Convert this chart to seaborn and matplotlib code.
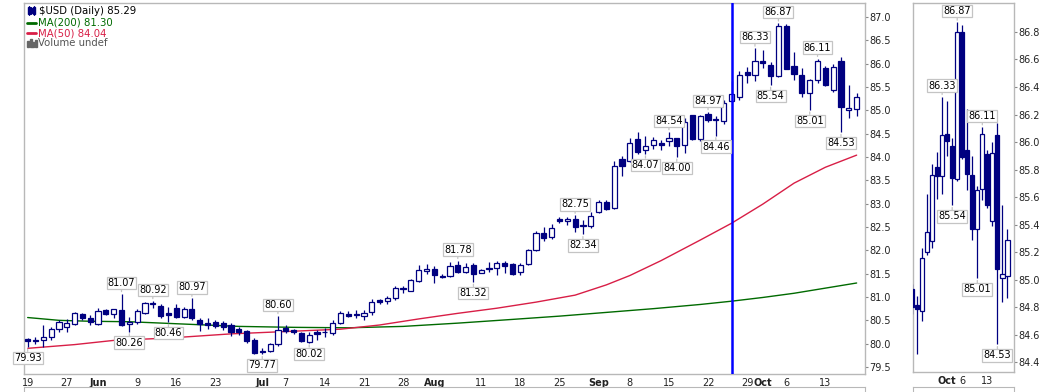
import numpy as np
import pandas as pd
import matplotlib
matplotlib.use("Agg")
import matplotlib.pyplot as plt
import seaborn as sns
from matplotlib.patches import Rectangle
from matplotlib.lines import Line2D

# ---------------- data ----------------
holidays = ["2014-05-26", "2014-07-04", "2014-09-01"]
dates = pd.bdate_range("2014-05-19", "2014-10-17")
dates = dates[~dates.isin(pd.to_datetime(holidays))]

opens = [80.11, 80.08, 80.07, 80.14, 80.31, 80.35, 80.42, 80.64, 80.56, 80.42,
         80.72, 80.63, 80.72, 80.42, 80.46, 80.66, 80.88, 80.81, 80.65, 80.76,
         80.58, 80.74, 80.51, 80.45, 80.46, 80.44, 80.40, 80.31, 80.28, 80.08,
         79.85, 79.85, 79.99, 80.34, 80.29, 80.22, 80.04, 80.24, 80.26, 80.22,
         80.45, 80.64, 80.63, 80.60, 80.67, 80.93, 80.92, 80.97, 81.20, 81.13,
         81.34, 81.56, 81.59, 81.45, 81.45, 81.69, 81.54, 81.69, 81.52, 81.62,
         81.63, 81.72, 81.70, 81.54, 81.71, 82.01, 82.37, 82.29, 82.68, 82.63,
         82.68, 82.55, 82.53, 82.82, 83.03, 82.91, 83.96, 83.92, 84.38, 84.14,
         84.26, 84.31, 84.34, 84.40, 84.26, 84.89, 84.39, 84.93, 84.82, 84.77,
         85.20, 85.28, 85.82, 85.75, 86.06, 85.97, 85.73, 86.80, 85.94, 85.76,
         85.37, 85.66, 85.91, 85.43, 86.05, 85.01, 85.03]
highs = [80.13, 80.15, 80.40, 80.36, 80.51, 80.53, 80.67, 80.66, 80.62, 80.77,
         80.74, 80.75, 81.07, 80.58, 80.75, 80.90, 80.92, 80.86, 80.79, 80.84,
         80.79, 80.97, 80.54, 80.54, 80.51, 80.49, 80.44, 80.36, 80.29, 80.12,
         79.90, 80.02, 80.60, 80.40, 80.32, 80.25, 80.24, 80.29, 80.33, 80.50,
         80.69, 80.69, 80.73, 80.72, 80.96, 80.96, 81.03, 81.24, 81.23, 81.38,
         81.69, 81.71, 81.67, 81.50, 81.76, 81.78, 81.73, 81.72, 81.59, 81.76,
         81.77, 81.78, 81.72, 81.72, 82.03, 82.41, 82.50, 82.57, 82.72, 82.72,
         82.75, 82.66, 82.82, 83.08, 83.08, 83.91, 84.03, 84.40, 84.53, 84.46,
         84.42, 84.37, 84.54, 84.41, 84.83, 84.91, 84.91, 84.97, 84.88, 85.23,
         85.62, 85.84, 85.93, 86.33, 86.30, 86.03, 86.87, 86.85, 86.24, 85.90,
         85.68, 86.11, 85.94, 86.00, 86.14, 85.54, 85.37]
lows = [79.93, 80.00, 79.92, 80.08, 80.24, 80.24, 80.40, 80.51, 80.40, 80.40,
        80.62, 80.55, 80.38, 80.26, 80.42, 80.63, 80.77, 80.55, 80.46, 80.55,
        80.55, 80.51, 80.27, 80.31, 80.34, 80.30, 80.17, 80.19, 80.02, 79.78,
        79.77, 79.83, 79.95, 80.23, 80.20, 80.04, 80.02, 80.07, 80.14, 80.18,
        80.43, 80.58, 80.56, 80.51, 80.62, 80.86, 80.86, 80.94, 81.09, 81.12,
        81.33, 81.49, 81.31, 81.40, 81.42, 81.51, 81.51, 81.32, 81.51, 81.53,
        81.48, 81.51, 81.47, 81.47, 81.69, 81.99, 82.21, 82.24, 82.58, 82.55,
        82.40, 82.34, 82.48, 82.79, 82.87, 82.89, 83.60, 83.89, 84.06, 84.07,
        84.17, 84.14, 84.24, 84.00, 84.09, 84.37, 84.35, 84.75, 84.46, 84.70,
        85.18, 85.23, 85.59, 85.62, 85.90, 85.54, 85.72, 85.88, 85.65, 85.29,
        85.01, 85.58, 85.52, 85.39, 84.53, 84.84, 84.87]
closes = [80.06, 80.06, 80.14, 80.31, 80.46, 80.44, 80.65, 80.54, 80.46, 80.69,
          80.64, 80.74, 80.40, 80.47, 80.70, 80.87, 80.84, 80.59, 80.62, 80.58,
          80.74, 80.54, 80.42, 80.40, 80.38, 80.36, 80.26, 80.25, 80.06, 79.80,
          79.83, 79.99, 80.29, 80.28, 80.24, 80.06, 80.19, 80.21, 80.24, 80.45,
          80.65, 80.60, 80.61, 80.65, 80.89, 80.90, 80.97, 81.19, 81.17, 81.36,
          81.58, 81.60, 81.47, 81.43, 81.66, 81.54, 81.64, 81.49, 81.57, 81.60,
          81.72, 81.67, 81.49, 81.69, 82.01, 82.37, 82.27, 82.47, 82.63, 82.68,
          82.50, 82.53, 82.74, 83.04, 82.89, 83.81, 83.81, 84.30, 84.11, 84.24,
          84.37, 84.26, 84.40, 84.24, 84.76, 84.39, 84.87, 84.80, 84.79, 85.16,
          85.35, 85.76, 85.75, 86.05, 86.01, 85.74, 86.80, 85.89, 85.77, 85.37,
          85.65, 86.06, 85.54, 85.92, 85.08, 85.04, 85.29]

# moving averages (trading-day index, value)
ma_idx = [0, 6, 11, 18, 26, 33, 40, 45, 50, 55, 60, 65, 70, 74, 77, 81, 86, 90, 94, 98, 102, 106]
ma50_vals = [79.90, 79.98, 80.07, 80.12, 80.21, 80.26, 80.31, 80.40, 80.53, 80.65, 80.76,
             80.89, 81.04, 81.26, 81.46, 81.78, 82.22, 82.58, 82.99, 83.44, 83.78, 84.04]
ma200_idx = [0, 4, 8, 13, 20, 27, 34, 41, 48, 55, 62, 68, 74, 80, 86, 90, 94, 98, 102, 106]
ma200_vals = [80.56, 80.50, 80.48, 80.47, 80.42, 80.37, 80.35, 80.34, 80.37, 80.44, 80.52,
              80.59, 80.67, 80.75, 80.84, 80.91, 80.99, 81.08, 81.19, 81.30]

# price labels (trading-day index, value, side)
lbl_idx = [0, 12, 13, 16, 18, 21, 30, 32, 36, 55, 57, 70, 71, 79, 82, 83, 87, 88, 93, 95, 96, 100, 101, 104]
lbl_vals = [79.93, 81.07, 80.26, 80.92, 80.46, 80.97, 79.77, 80.60, 80.02, 81.78, 81.32, 82.75,
            82.34, 84.07, 84.54, 84.00, 84.97, 84.46, 86.33, 85.54, 86.87, 85.01, 86.11, 84.53]
lbl_side = ["l", "h", "l", "h", "l", "h", "l", "h", "l", "h", "l", "h",
            "l", "l", "h", "l", "h", "l", "h", "l", "h", "l", "h", "l"]

tick_dates = ["2014-05-19", "2014-05-27", "2014-06-02", "2014-06-09", "2014-06-16", "2014-06-23",
              "2014-07-01", "2014-07-07", "2014-07-14", "2014-07-21", "2014-07-28", "2014-08-01",
              "2014-08-11", "2014-08-18", "2014-08-25", "2014-09-02", "2014-09-08", "2014-09-15",
              "2014-09-22", "2014-09-29", "2014-10-01", "2014-10-06", "2014-10-13"]
tick_labels = ["19", "27", "Jun", "9", "16", "23", "Jul", "7", "14", "21", "28", "Aug",
               "11", "18", "25", "Sep", "8", "15", "22", "29", "Oct", "6", "13"]
zoom_tick_dates = ["2014-10-01", "2014-10-06", "2014-10-13"]
zoom_tick_labels = ["Oct", "6", "13"]
marker_date = "2014-09-25"
zoom_start = "2014-09-22"

# ---------------- style ----------------
sns.set_style("white")
plt.rcParams["font.family"] = ["DejaVu Sans"]
NAVY = "#000080"
GRID = "#b8b8b8"
GREEN = "#006a00"
RED = "#d81e46"

W, H = 1050, 392
fig = plt.figure(figsize=(W / 100, H / 100), dpi=100)


def px_axes(x0, y0, x1, y1):
    return fig.add_axes([x0 / W, 1 - y1 / H, (x1 - x0) / W, (y1 - y0) / H])


ax = px_axes(24, 3, 865, 374)
axz = px_axes(913, 3, 1014, 372)

o = np.array(opens); h = np.array(highs); l = np.array(lows); c = np.array(closes)
x = np.arange(len(dates))
df = pd.DataFrame({"x": x, "open": o, "high": h, "low": l, "close": c})


def draw_candles(a, width):
    up = df["close"] >= df["open"]
    a.vlines(df["x"], df["low"], df["high"], color=NAVY, lw=0.9, zorder=3)
    body = np.maximum((df["close"] - df["open"]).abs(), 0.004)
    a.bar(df["x"], body, bottom=np.minimum(df["open"], df["close"]), width=width,
          color=np.where(up, "white", NAVY), edgecolor=NAVY, linewidth=0.9, zorder=4)


draw_candles(ax, 0.66)
draw_candles(axz, 0.82)

ma50_df = pd.DataFrame({"x": ma_idx, "v": ma50_vals})
ma200_df = pd.DataFrame({"x": ma200_idx, "v": ma200_vals})
sns.lineplot(data=ma200_df, x="x", y="v", ax=ax, color=GREEN, lw=1.0, zorder=2)
sns.lineplot(data=ma50_df, x="x", y="v", ax=ax, color=RED, lw=1.0, zorder=2)

mpos = dates.get_loc(pd.Timestamp(marker_date))
ax.axvline(mpos, color="#0000ff", lw=1.8, zorder=5)


def add_labels(a, lo, hi):
    for i, v, s in zip(lbl_idx, lbl_vals, lbl_side):
        if i < lo or i > hi:
            continue
        dy = 11 if s == "h" else -11
        a.annotate(f"{v:.2f}", xy=(i, v), xytext=(0, dy), textcoords="offset pixels",
                   ha="center", va="center", fontsize=7, color="black", zorder=8,
                   bbox=dict(boxstyle="square,pad=0.12", fc="white", ec="#c4c4c4", lw=0.9),
                   arrowprops=dict(arrowstyle="-", color="#c4c4c4", lw=0.9, shrinkA=0, shrinkB=1.5))


zs = dates.get_loc(pd.Timestamp(zoom_start))
add_labels(ax, 0, len(dates))
add_labels(axz, zs + 5, len(dates))

# axes formatting
ax.set_xlim(-0.47, 107.07)
ax.set_ylim(79.35, 87.30)
axz.set_xlim(87.2, 107.3)
axz.set_ylim(84.33, 87.01)

for a in (ax, axz):
    a.set_xlabel(""); a.set_ylabel("")
    for sp in a.spines.values():
        sp.set_color(GRID); sp.set_linewidth(1)
    a.yaxis.tick_right()
    a.tick_params(axis="y", direction="out", length=2, width=0.8, color="#888888",
                  labelsize=7, pad=1, labelcolor="#222222", left=False, right=True)
    a.tick_params(axis="x", length=0, labelsize=7, pad=3, labelcolor="#222222")
    a.grid(False)

ax.set_yticks(np.arange(79.5, 87.01, 0.5))
ax.set_yticklabels([f"{v:.1f}" for v in np.arange(79.5, 87.01, 0.5)])
axz.set_yticks(np.arange(84.4, 86.81, 0.2))
axz.set_yticklabels([f"{v:.1f}" for v in np.arange(84.4, 86.81, 0.2)])

tpos = dates.get_indexer(pd.to_datetime(tick_dates))
ax.set_xticks(tpos)
ax.set_xticklabels(tick_labels)
zpos = dates.get_indexer(pd.to_datetime(zoom_tick_dates))
axz.set_xticks(zpos)
axz.set_xticklabels(zoom_tick_labels)
for a in (ax, axz):
    for t in a.get_xticklabels():
        if t.get_text() in ("Jun", "Jul", "Aug", "Sep", "Oct"):
            t.set_fontweight("bold")

# legend block (top-left)
def fx(px): return px / W
def fy(py): return 1 - py / H

fig.text(fx(39), fy(11), "$USD (Daily) 85.29", fontsize=7.3, color="black", va="center")
fig.text(fx(37.5), fy(22.5), "MA(200) 81.30", fontsize=7.3, color=GREEN, va="center")
fig.text(fx(37.5), fy(33), "MA(50) 84.04", fontsize=7.3, color=RED, va="center")
fig.text(fx(37.5), fy(43), "Volume undef", fontsize=7.3, color="#555555", va="center")
fig.add_artist(Line2D([fx(27), fx(36)], [fy(22.5), fy(22.5)], color=GREEN, lw=2))
fig.add_artist(Line2D([fx(27), fx(36)], [fy(33), fy(33)], color=RED, lw=2))
for cx, top, bot in [(28.5, 7, 14), (31, 8, 13), (33.5, 7, 14)]:
    fig.add_artist(Line2D([fx(cx), fx(cx)], [fy(top - 1), fy(bot + 1)], color=NAVY, lw=0.8))
    fig.add_artist(Rectangle((fx(cx - 1), fy(bot)), fx(2), (bot - top) / H, color=NAVY))
for bx, bh in [(27, 6), (29.5, 8), (32, 5), (34.5, 7)]:
    fig.add_artist(Rectangle((fx(bx), fy(47)), fx(2), bh / H, color="#666666"))

# tops of the (cut-off) lower panels
for x0, x1 in [(24, 865), (913, 1014)]:
    b = px_axes(x0, 387, x1, 395)
    b.set_xticks([]); b.set_yticks([])
    for sp in b.spines.values():
        sp.set_color(GRID)

fig.savefig("out.png", dpi=100)
